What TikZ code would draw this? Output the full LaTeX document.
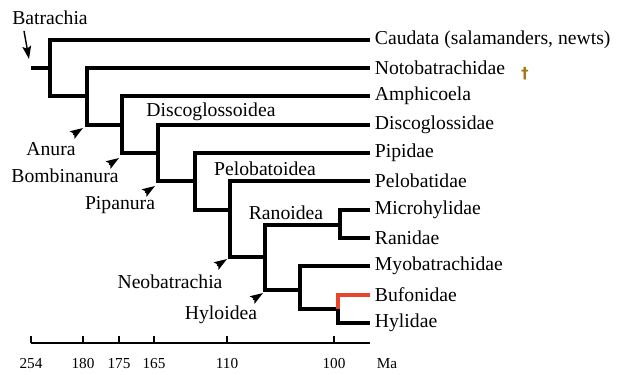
\documentclass[tikz,border=0pt]{standalone}
\usepackage{fontspec}
\setmainfont{Liberation Serif}
\newfontfamily\marksfont{DejaVu Sans}
\usepackage{tikz}
\usetikzlibrary{arrows.meta}
\definecolor{CladeRed}{HTML}{E8462B}
\definecolor{FossilGold}{HTML}{A07A10}

\begin{document}
\begin{tikzpicture}[x=.03cm,y=-.03cm,
  branch/.style={line width=3.8pt},
  taxon/.style={anchor=west,inner xsep=4pt,inner ysep=0pt,font=\fontsize{16.8}{18}\selectfont},
  clade/.style={inner sep=0pt,font=\fontsize{16.8}{18}\selectfont},
  pointer/.style={-{Stealth[length=11pt,width=7.5pt,inset=2pt]},line width=1.2pt},
  tick/.style={line width=1.6pt},
  ma/.style={inner sep=0pt,font=\fontsize{13}{14}\selectfont}]
\useasboundingbox (0,0) rectangle (620,375);
% taxa
\node[taxon] (caud) at (370,40) {Caudata (salamanders, newts)};
\node[taxon] (noto) at (370,68) {Notobatrachidae};
\node[taxon] (amph) at (370,96) {Amphicoela};
\node[taxon] (disc) at (370,125) {Discoglossidae};
\node[taxon] (pipi) at (370,153) {Pipidae};
\node[taxon] (pelb) at (370,181) {Pelobatidae};
\node[taxon] (micr) at (370,210) {Microhylidae};
\node[taxon] (rani) at (370,238) {Ranidae};
\node[taxon] (myob) at (370,266) {Myobatrachidae};
\node[taxon] (bufo) at (370,295) {Bufonidae};
\node[taxon] (hyli) at (370,323) {Hylidae};
\node[text=FossilGold,font=\marksfont\fontsize{13}{13}\selectfont\bfseries] (extinct) at (525,74) {†};
% branching points
\coordinate (stem) at (31,68);
\coordinate (batr) at (50,68);
\coordinate (anur) at (87,96);
\coordinate (bomb) at (122,125);
\coordinate (pipa) at (158,153);
\coordinate (pelo) at (195,181);
\coordinate (neob) at (230,210);
\coordinate (rahy) at (265,257);
\coordinate (rano) at (340,225);
\coordinate (hylo) at (300,290);
\coordinate (bfhy) at (338,309);
% tree
\draw[branch] (stem) -- (batr);
\draw[branch] (caud.west) -| (batr) |- (anur);
\draw[branch] (noto.west) -| (anur) |- (bomb);
\draw[branch] (amph.west) -| (bomb) |- (pipa);
\draw[branch] (disc.west) -| (pipa) |- (pelo);
\draw[branch] (pipi.west) -| (pelo) |- (neob);
\draw[branch] (pelb.west) -| (neob) |- (rahy);
\draw[branch] (rano) -| (rahy) |- (hylo);
\draw[branch] (micr.west) -| (rano) |- (rani.west);
\draw[branch] (myob.west) -| (hylo) |- (bfhy);
\draw[branch,CladeRed] (bufo.west) -| (bfhy);
\draw[branch] (bfhy) |- (hyli.west);
% clade names
\node[clade] (batrLbl) at (50,18) {Batrachia};
\node[clade] (anurLbl) at (51,149) {Anura};
\node[clade] (bombLbl) at (65,176) {Bombinanura};
\node[clade] (pipaLbl) at (120,205) {Pipanura};
\node[clade] (neobLbl) at (170,282) {Neobatrachia};
\node[clade] (hyloLbl) at (221,315) {Hyloidea};
\node[clade] (discLbl) at (211,112) {Discoglossoidea};
\node[clade] (pelbLbl) at (265,169) {Pelobatoidea};
\node[clade] (ranoLbl) at (286,213) {Ranoidea};
% pointers
\coordinate (batrTip) at (29,59);
\draw[pointer] ([shift={(-5,-28)}]batrTip) -- (batrTip);
\coordinate (anurTip) at (83,128);
\coordinate (bombTip) at (119,158);
\coordinate (pipaTip) at (155,186);
\coordinate (neobTip) at (227,259);
\coordinate (hyloTip) at (263,293);
\foreach \t in {anurTip,bombTip,pipaTip,neobTip,hyloTip}
  \draw[pointer] ([shift={(-10,6.5)}]\t) -- (\t);
% time axis
\coordinate (ax0) at (31,343);
\coordinate (ax1) at (370,343);
\draw[tick] (ax0) -- (ax1);
\foreach \x/\t in {31/254,83/180,119/175,154/165,227/110,334/100} {
  \draw[tick] (\x,343) -- (\x,336);
  \node[ma] (t\t) at (\x,364) {\t};
}
\node[ma] (unit) at (387,364) {Ma};
\end{tikzpicture}
\end{document}
